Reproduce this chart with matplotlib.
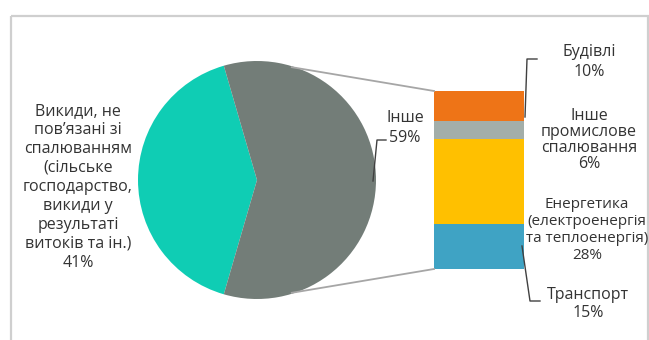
import numpy as np
import matplotlib
matplotlib.use("Agg")
import matplotlib.pyplot as plt
from matplotlib.patches import Rectangle

# ---- data ----
pie_labels = ["Викиди, не\nпов\u2019язані зі\nспалюванням\n(сільське\nгосподарство,\nвикиди у\nрезультаті\nвитоків та ін.)\n41%",
              "Інше\n59%"]
pie_values = [41, 59]
pie_colors = ["#0FCDB4", "#737D78"]

bar_labels = ["Транспорт\n15%",
              "Енергетика\n(електроенергія\nта теплоенергія)\n28%",
              "Інше\nпромислове\nспалювання\n6%",
              "Будівлі\n10%"]
bar_values = [15, 28, 6, 10]
bar_colors = ["#3FA3C4", "#FFC000", "#A3AEA9", "#EE7417"]

plt.rcParams['font.family'] = ['Open Sans', 'DejaVu Sans']
TXT = "#333333"

W, H = 649, 340
fig = plt.figure(figsize=(W / 100, H / 100), dpi=100)
fig.patch.set_facecolor("white")

# geometry in image pixels
cx, cy, r = 257, 180, 119
bx0, bx1, by0, by1 = 434, 524, 91, 269

# overlay axes in pixel coordinates (y down)
ov = fig.add_axes([0, 0, 1, 1], zorder=3)
ov.set_xlim(0, W)
ov.set_ylim(H, 0)
ov.axis("off")
ov.patch.set_alpha(0)

# frame
ov.add_patch(Rectangle((10.5, 15.5), 637, 340, fill=False, edgecolor="#CFCFCF", lw=1.6))

# pie
axp = fig.add_axes([(cx - r) / W, (H - cy - r) / H, 2 * r / W, 2 * r / H], zorder=1)
start = 180 - pie_values[0] / sum(pie_values) * 360 / 2
axp.pie(pie_values, colors=pie_colors, startangle=start, counterclock=True,
        radius=1, wedgeprops=dict(linewidth=0))
axp.set_xlim(-1, 1)
axp.set_ylim(-1, 1)
axp.axis("off")

# bar
axb = fig.add_axes([bx0 / W, (H - by1) / H, (bx1 - bx0) / W, (by1 - by0) / H], zorder=1)
bottom = 0
for v, c in zip(bar_values, bar_colors):
    axb.bar(0, v, bottom=bottom, width=1, color=c, linewidth=0)
    bottom += v
axb.set_xlim(-0.5, 0.5)
axb.set_ylim(0, sum(bar_values))
axb.axis("off")

# connector lines (pie to bar)
ang = np.deg2rad(73)
ov.plot([cx + r * np.cos(ang), bx0], [cy - r * np.sin(ang) + 1, by0], color="#A6A6A6", lw=1.3)
ov.plot([cx + r * np.cos(ang), bx0], [cy + r * np.sin(ang) - 1, by1], color="#A6A6A6", lw=1.3)

# labels
fs = 11.5
ov.text(78, 187, pie_labels[0], ha="center", va="center", fontsize=fs, color=TXT, linespacing=1.25)
ov.text(405, 128, pie_labels[1], ha="center", va="center", fontsize=fs, color=TXT, linespacing=1.25)
ov.plot([373, 377, 386], [181, 140, 140], color="#404040", lw=1)

ov.text(589, 62, bar_labels[3], ha="center", va="center", fontsize=fs, color=TXT, linespacing=1.25)
ov.plot([525, 527, 537], [117, 59, 59], color="#404040", lw=1)
ov.text(589, 140, bar_labels[2], ha="center", va="center", fontsize=fs, color=TXT, linespacing=1.0)
ov.text(587, 230, bar_labels[1], ha="center", va="center", fontsize=11, color=TXT, linespacing=1.2)
ov.text(588, 304, bar_labels[0], ha="center", va="center", fontsize=fs, color=TXT, linespacing=1.15)
ov.plot([522, 530, 540], [246, 301, 301], color="#404040", lw=1)

fig.savefig("out.png", dpi=100, facecolor="white")
